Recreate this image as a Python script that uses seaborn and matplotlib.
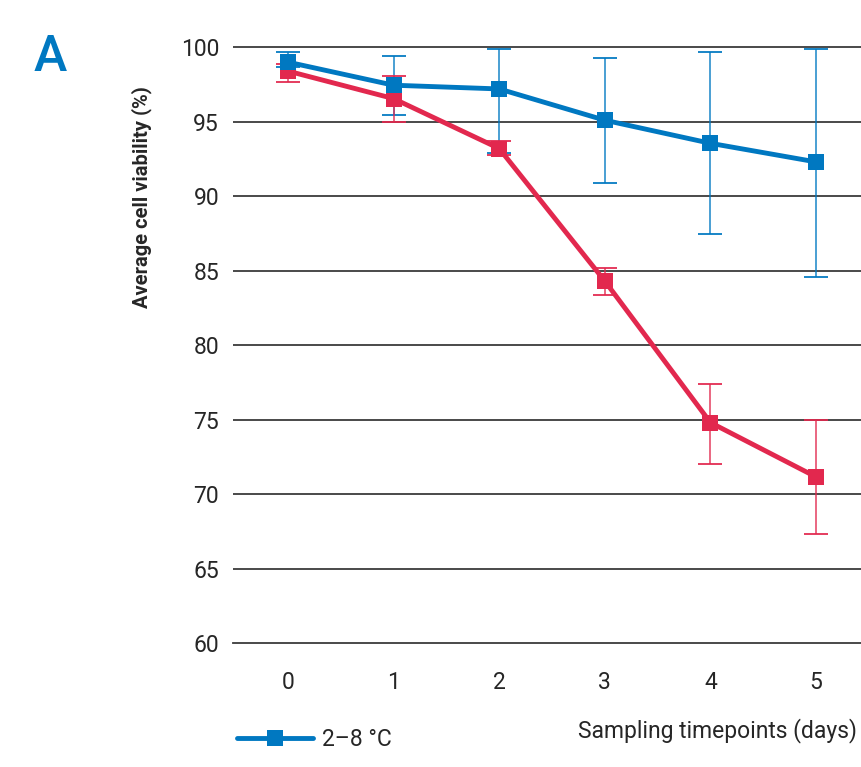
import matplotlib
matplotlib.use("Agg")
import matplotlib.pyplot as plt
from matplotlib.lines import Line2D
import seaborn as sns
import pandas as pd
import numpy as np

# ---- data ----
days = [0, 1, 2, 3, 4, 5]
cold_mean = [99.0, 97.45, 97.2, 95.1, 93.55, 92.3]
cold_err_low = [0.3, 2.0, 4.3, 4.2, 6.1, 7.7]
cold_err_high = [0.7, 1.95, 2.7, 4.2, 6.15, 7.6]
warm_mean = [98.4, 96.55, 93.2, 84.3, 74.8, 71.15]
warm_err_low = [0.75, 1.6, 0.45, 0.95, 2.8, 3.8]
warm_err_high = [0.45, 1.55, 0.5, 0.9, 2.6, 3.8]
cold_label = "2–8 °C"
warm_label = "RT"
yticks = [60, 65, 70, 75, 80, 85, 90, 95, 100]

BLUE = "#0078c1"
RED = "#e2284e"
TXT = "#262626"

sns.set_theme(style="white")
plt.rcParams['font.family'] = ['Roboto', 'DejaVu Sans']

fig = plt.figure(figsize=(8.61, 7.67), dpi=100)
ax = fig.add_axes([233/861, 1-643/767, (871-233)/861, (643-45)/767])

df = pd.DataFrame({
    "day": days * 2,
    "viability": cold_mean + warm_mean,
    "cond": [cold_label] * len(days) + [warm_label] * len(days),
})

# error bars
ax.errorbar(days, cold_mean, yerr=[cold_err_low, cold_err_high], fmt="none",
            ecolor=BLUE, elinewidth=1.1, capsize=8.5, capthick=1.4, alpha=0.9, zorder=3)
ax.errorbar(days, warm_mean, yerr=[warm_err_low, warm_err_high], fmt="none",
            ecolor=RED, elinewidth=1.1, capsize=8.5, capthick=1.4, alpha=0.9, zorder=3)

sns.lineplot(data=df, x="day", y="viability", hue="cond",
             palette={cold_label: BLUE, warm_label: RED},
             hue_order=[warm_label, cold_label],
             marker="s", markersize=11, markeredgewidth=0, linewidth=3.5,
             legend=False, ax=ax, zorder=4)

ax.set_xlim(-0.52, 5.52)
ax.set_ylim(60, 100.15)
ax.set_yticks(yticks)
ax.set_xticks(days)
for y in yticks[1:]:
    ax.axhline(y, color="#3a3a3a", lw=1.3, zorder=1)

for s in ["left", "right", "top"]:
    ax.spines[s].set_visible(False)
ax.spines["bottom"].set_color("#3a3a3a")
ax.spines["bottom"].set_linewidth(1.3)
ax.tick_params(axis="y", length=0, pad=10, labelsize=16.5, labelcolor=TXT)
ax.tick_params(axis="x", direction="out", length=10, width=1, color="#3a3a3a",
               pad=10, labelsize=16.5, labelcolor=TXT)
ax.grid(False)

ax.set_ylabel("Average cell viability (%)", fontsize=14.5, fontweight="semibold",
              color=TXT)
ax.yaxis.set_label_coords(-0.127, 0.745)
ax.set_xlabel("Sampling timepoints (days)", fontsize=16.5, color=TXT)
ax.xaxis.set_label_coords((857-233)/(871-233), -0.125)
ax.xaxis.label.set_horizontalalignment("right")

fig.text(50/861, 1-57/767, "A", fontsize=36, fontweight="medium", color=BLUE,
         ha="center", va="center")

handle = Line2D([], [], color=BLUE, lw=3.5, marker="s", markersize=11, markeredgewidth=0)
leg = fig.legend([handle], [cold_label], loc="center left", bbox_to_anchor=(228/861, 1-740/767),
           frameon=False, fontsize=16.5, handlelength=3.3, handletextpad=0.4,
           borderaxespad=0, labelcolor=TXT)

fig.savefig("out.png", dpi=100)
